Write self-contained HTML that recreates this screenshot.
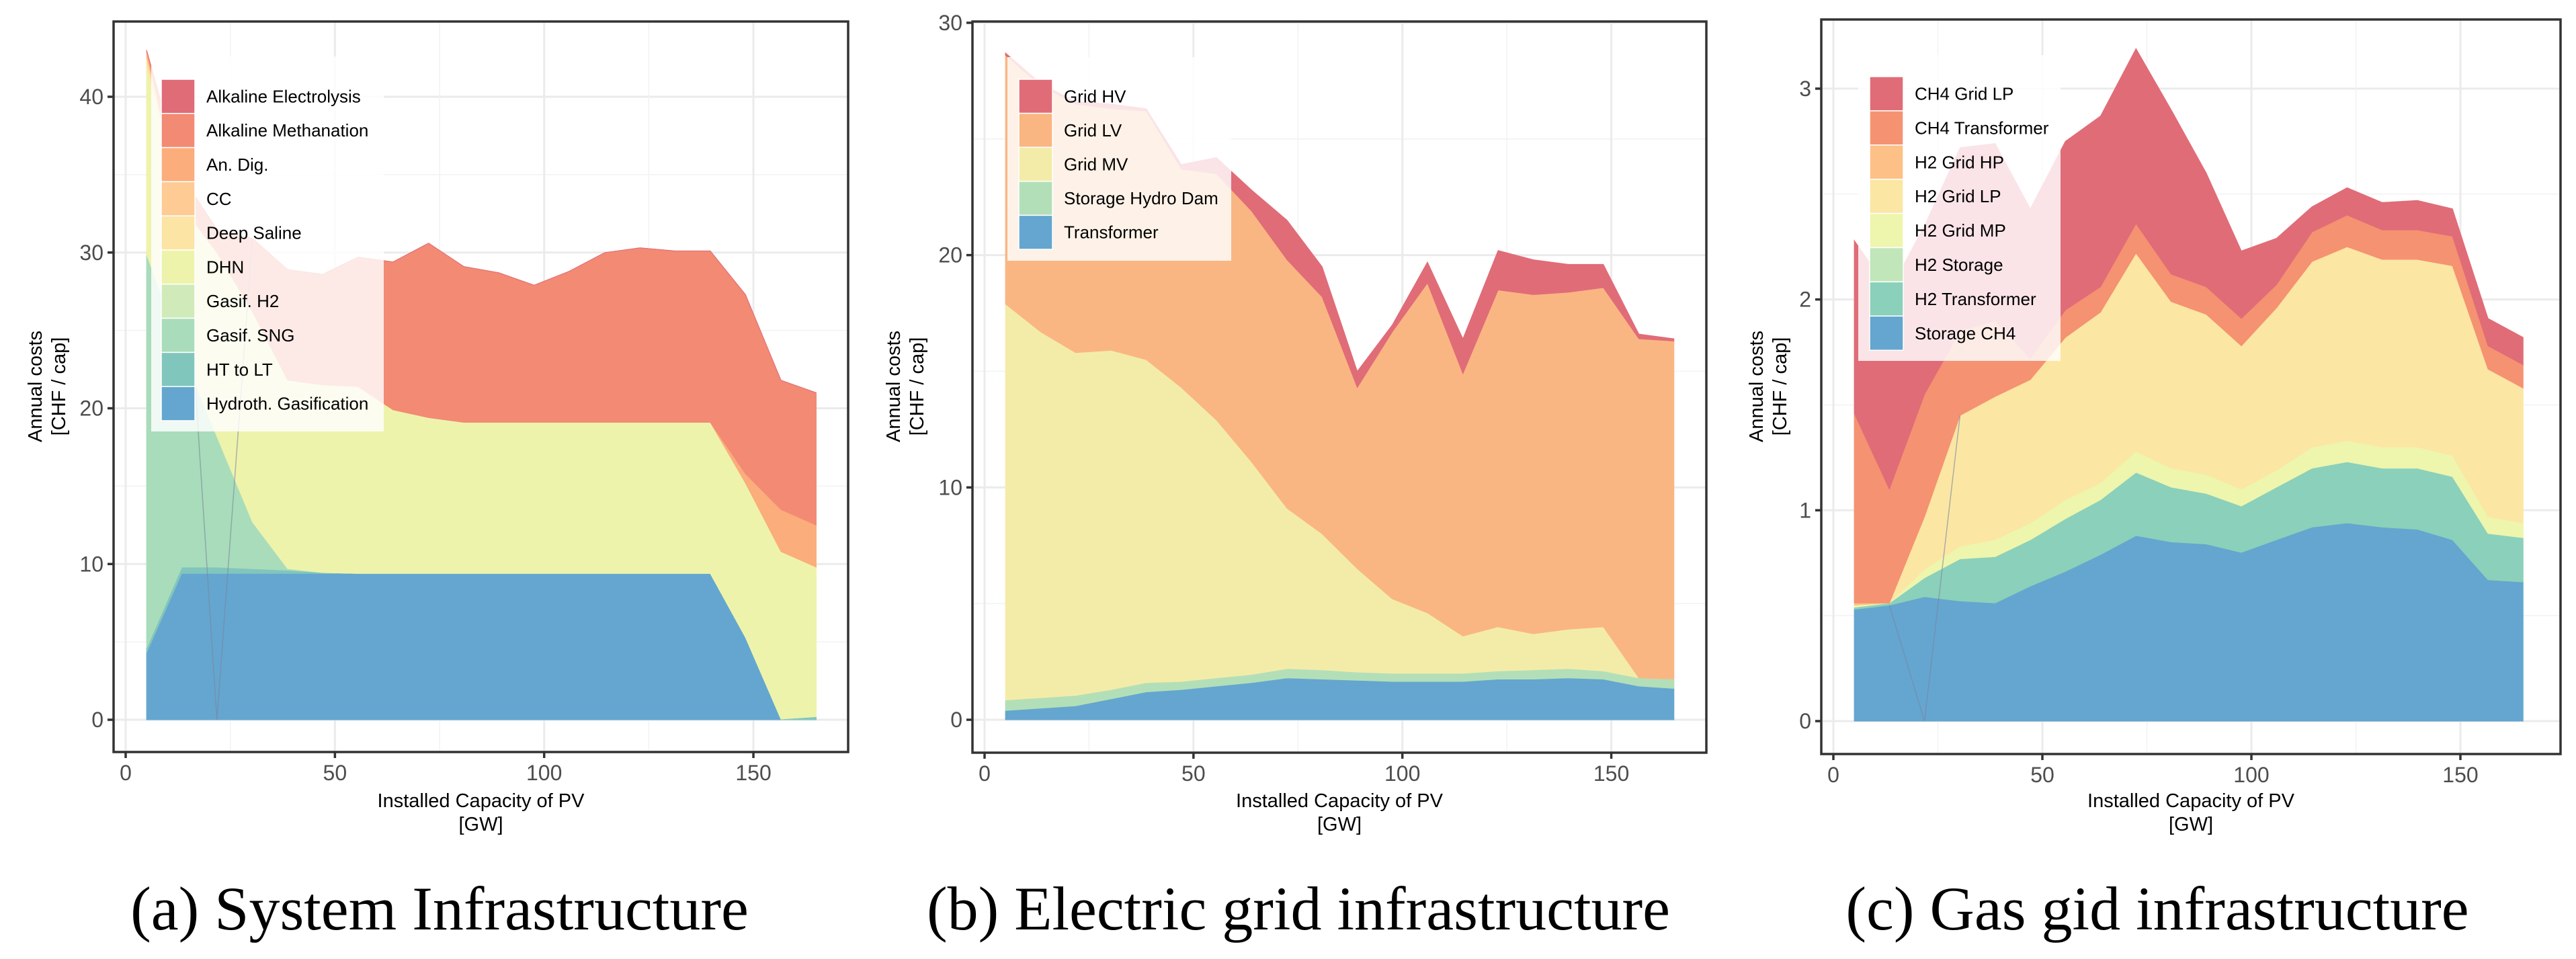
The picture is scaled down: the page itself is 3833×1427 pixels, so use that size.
<!DOCTYPE html>
<html><head><meta charset="utf-8"><style>
html,body{margin:0;padding:0;background:#fff;}
svg{display:block;}
text{font-family:"Liberation Sans",Arial,sans-serif;}
</style></head><body>
<svg id="fig" width="3833" height="1427" viewBox="0 0 3833 1427" xmlns="http://www.w3.org/2000/svg"></svg>
<script>
// ---------- Panel A data ----------
const xA = [5,13.4,21.8,30.3,38.7,47.1,55.5,63.9,72.4,80.8,89.2,97.6,106,114.5,122.9,131.3,139.7,148.1,156.6,165];
const namesA = ["Hydroth. Gasification","HT to LT","Gasif. SNG","Gasif. H2","DHN","Deep Saline","CC","An. Dig.","Alkaline Methanation","Alkaline Electrolysis"];
const aHydroth = [4.3,9.4,9.4,9.4,9.4,9.4,9.4,9.4,9.4,9.4,9.4,9.4,9.4,9.4,9.4,9.4,9.4,5.3,0,0];
const aHTLT = [0.3,0.4,0.4,0.3,0.2,0.05,0,0,0,0,0,0,0,0,0,0,0,0,0.05,0.2];
const aSNG = [25.3,13.9,8.4,3.0,0.1,0,0,0,0,0,0,0,0,0,0,0,0,0,0,0];
const aGasH2 = [0,0,0,0,0,0,0,0,0,0,0,0,0,0,0,0,0,0,0,0];
const aDHN = [12.1,9.3,11.8,13.5,12.1,12.05,12.0,10.5,10.0,9.7,9.7,9.7,9.7,9.7,9.7,9.7,9.7,9.9,10.75,9.6];
const aDeep = [0.5,0,0,0,0,0,0,0,0,0,0,0,0,0,0,0,0,0,0,0];
const aCC = [0.3,0,0,0,0,0,0,0,0,0,0,0,0,0,0,0,0,0,0,0];
const aAnDig = [0.2,0,0,0,0,0,0,0,0,0,0,0,0,0,0,0,0,0.6,2.7,2.7];
const aMeth = [0,1.9,1.5,4.7,7.1,7.1,8.3,9.5,11.2,10.0,9.6,8.8,9.7,10.9,11.2,11.0,11.0,11.5,8.3,8.5];
const aElec = [0,0,0,0,0,0,0,0,0,0,0,0,0,0,0,0,0,0,0,0];
const glitchAx = [13.4,21.8,30.3];
const glitchAy = [34.9,0,30.9];
const yTicksA = [0,10,20,30,40];

// ---------- Panel B data ----------
const xB = [5,13.4,21.8,30.3,38.7,47.1,55.5,63.9,72.4,80.8,89.2,97.6,106,114.5,122.9,131.3,139.7,148.1,156.6,165];
const namesB = ["Transformer","Storage Hydro Dam","Grid MV","Grid LV","Grid HV"];
const bTrans = [0.4,0.5,0.6,0.9,1.2,1.3,1.45,1.6,1.8,1.75,1.7,1.65,1.65,1.65,1.75,1.75,1.8,1.75,1.45,1.35];
const bHydro = [0.45,0.45,0.45,0.4,0.4,0.35,0.35,0.35,0.4,0.4,0.35,0.35,0.35,0.35,0.35,0.4,0.4,0.35,0.35,0.4];
const bMV = [17.05,15.75,14.75,14.6,13.9,12.65,11.1,9.15,6.9,5.85,4.45,3.2,2.6,1.6,1.9,1.55,1.7,1.9,0,0];
const bLV = [10.7,10.6,10.7,10.4,10.7,9.4,10.6,10.8,10.7,10.2,7.8,11.5,14.2,11.3,14.5,14.6,14.5,14.6,14.6,14.55];
const bHV = [0.1,0.1,0.1,0.2,0.1,0.2,0.7,0.9,1.7,1.3,0.7,0.3,0.9,1.5,1.7,1.5,1.2,1.0,0.2,0.1];
const yTicksB = [0,10,20,30];

// ---------- Panel C data ----------
const xC = [5,13.4,21.8,30.3,38.7,47.1,55.5,63.9,72.4,80.8,89.2,97.6,106,114.5,122.9,131.3,139.7,148.1,156.6,165];
const namesC = ["Storage CH4","H2 Transformer","H2 Storage","H2 Grid MP","H2 Grid LP","H2 Grid HP","CH4 Transformer","CH4 Grid LP"];
const cStorCH4 = [0.53,0.55,0.59,0.57,0.56,0.64,0.71,0.79,0.88,0.85,0.84,0.80,0.86,0.92,0.94,0.92,0.91,0.86,0.67,0.66];
const cH2Trans = [0.01,0.01,0.09,0.2,0.22,0.22,0.25,0.26,0.30,0.26,0.24,0.22,0.25,0.28,0.29,0.28,0.29,0.30,0.22,0.21];
const cH2Stor = [0,0,0,0,0,0,0,0,0,0,0,0,0,0,0,0,0,0,0,0];
const cH2MP = [0.01,0,0.04,0.06,0.08,0.08,0.09,0.08,0.10,0.09,0.09,0.08,0.08,0.10,0.10,0.10,0.10,0.10,0.08,0.07];
const cH2LP = [0,0,0.25,0.62,0.68,0.68,0.77,0.81,0.94,0.79,0.76,0.68,0.77,0.88,0.92,0.89,0.89,0.90,0.70,0.64];
const cH2HP = [0.01,0,0,0,0,0,0,0,0,0,0,0,0,0,0,0,0,0,0,0];
const cCH4Trans = [0.90,0.54,0.58,0.40,0.36,0.10,0.13,0.12,0.14,0.13,0.13,0.13,0.11,0.14,0.15,0.14,0.14,0.14,0.11,0.11];
const cCH4LP = [0.82,0.94,0.80,0.87,0.84,0.71,0.80,0.81,0.83,0.78,0.54,0.32,0.22,0.12,0.13,0.13,0.14,0.13,0.13,0.13];
const glitchCx = [13.4,21.8,30.3];
const glitchCy = [0.55,0,1.45];
const yTicksC = [0,1,2,3];

const xTicks = [0,50,100,150];

const NS = "http://www.w3.org/2000/svg";
const svg = document.getElementById('fig');
function mk(tag, attrs, parent){
  const e = document.createElementNS(NS, tag);
  for (const k in attrs) e.setAttribute(k, attrs[k]);
  (parent||svg).appendChild(e);
  return e;
}

function panel(cfg){
  const g = mk('g', {});
  
  
  const X = v => cfg.x0 + v*cfg.kx;
  const Y = v => cfg.y0 - v*cfg.ky;
  const [L,T,R,B] = cfg.box;
  const cid = cfg.id + '-clip';
  const defs = mk('defs', {}, g);
  const cp = mk('clipPath', {id: cid}, defs);
  mk('rect', {x:L, y:T, width:R-L, height:B-T}, cp);
  const grid = mk('g', {}, g);
  
  
  for (let i=0;i<cfg.yTicks.length;i++){
    const v = cfg.yTicks[i];
    mk('line', {x1:L, x2:R, y1:Y(v), y2:Y(v), stroke:'#ebebeb', 'stroke-width':3}, grid);
    const m = v + cfg.yStep/2;
    if (Y(m) > T) mk('line', {x1:L, x2:R, y1:Y(m), y2:Y(m), stroke:'#f2f2f2', 'stroke-width':1.5}, grid);
    const mm = v - cfg.yStep/2;
    if (i===0 && Y(mm) < B) mk('line', {x1:L, x2:R, y1:Y(mm), y2:Y(mm), stroke:'#f2f2f2', 'stroke-width':1.5}, grid);
  }
  for (const v of xTicks){
    mk('line', {x1:X(v), x2:X(v), y1:T, y2:B, stroke:'#ebebeb', 'stroke-width':3}, grid);
    const m = v + 25;
    if (X(m) < R) mk('line', {x1:X(m), x2:X(m), y1:T, y2:B, stroke:'#f2f2f2', 'stroke-width':1.5}, grid);
  }
  const areas = mk('g', {'clip-path':'url(#'+cid+')'}, g);
  
  
  const n = cfg.x.length;
  let base = new Array(n).fill(0);
  cfg.series.forEach((s, si) => {
    const top = base.map((b,i)=> b + s[i]);
    let d = '';
    for (let i=0;i<n;i++) d += (i? 'L':'M') + X(cfg.x[i]).toFixed(1) + ',' + Y(top[i]).toFixed(1);
    for (let i=n-1;i>=0;i--) d += 'L' + X(cfg.x[i]).toFixed(1) + ',' + Y(base[i]).toFixed(1);
    d += 'Z';
    const p = mk('path', {d:d, fill:cfg.colors[si], stroke:cfg.colors[si], 'stroke-width':1}, areas);
    
    
    base = top;
  });
  if (cfg.gx){
    let d='';
    cfg.gx.forEach((v,i)=>{ d += (i?'L':'M') + X(v).toFixed(1) + ',' + Y(cfg.gy[i]).toFixed(1); });
    const gl = mk('path', {d:d, fill:'none', stroke:'#7a86a0', 'stroke-width':1.5, opacity:0.6}, areas);
    
    
  }
  const lg = mk('g', {}, g);
  
  
  const LG = cfg.legend;
  mk('rect', {x:LG.x, y:LG.y, width:LG.w, height:LG.h, fill:'#fff', 'fill-opacity':0.82}, lg);
  const m = cfg.names.length;
  for (let k=0;k<m;k++){
    const si = m-1-k;
    const ky = LG.ky + k*LG.kh;
    const ent = mk('g', {}, lg);
    
    
    mk('rect', {x:LG.kx, y:ky, width:50, height:LG.kh, fill:cfg.colors[si], stroke:'#fff', 'stroke-width':1.5}, ent);
    const t = mk('text', {x:LG.tx, y:ky+LG.kh/2+9, 'font-size':26, fill:'#000'}, ent);
    t.textContent = cfg.names[si];
  }
  const bd = mk('rect', {x:L, y:T, width:R-L, height:B-T, fill:'none', stroke:'#333', 'stroke-width':3.5}, g);
  
  
  const ya = mk('g', {}, g);
  
  
  for (const v of cfg.yTicks){
    mk('line', {x1:L-9, x2:L, y1:Y(v), y2:Y(v), stroke:'#333', 'stroke-width':3.5}, ya);
    const t = mk('text', {x:L-15, y:Y(v)+11, 'font-size':32, fill:'#4d4d4d', 'text-anchor':'end'}, ya);
    t.textContent = v;
  }
  const xa = mk('g', {}, g);
  
  
  for (const v of xTicks){
    mk('line', {x1:X(v), x2:X(v), y1:B, y2:B+9, stroke:'#333', 'stroke-width':3.5}, xa);
    const t = mk('text', {x:X(v), y:B+42, 'font-size':32, fill:'#4d4d4d', 'text-anchor':'middle'}, xa);
    t.textContent = v;
  }
  const cx = (L+R)/2;
  const xt = mk('text', {x:cx, y:1201, 'font-size':29, 'text-anchor':'middle', fill:'#000'}, g);
  
  
  xt.textContent = 'Installed Capacity of PV';
  const xu = mk('text', {x:cx, y:1236, 'font-size':29, 'text-anchor':'middle', fill:'#000'}, g);
  
  
  xu.textContent = '[GW]';
  const yt = mk('text', {x:0, y:0, 'font-size':29, 'text-anchor':'middle', fill:'#000', transform:'translate('+(cfg.yTitleX)+',575) rotate(-90)'}, g);
  
  
  yt.textContent = 'Annual costs';
  const yu = mk('text', {x:0, y:0, 'font-size':29, 'text-anchor':'middle', fill:'#000', transform:'translate('+(cfg.yTitleX+35)+',575) rotate(-90)'}, g);
  
  
  yu.textContent = '[CHF / cap]';
  const cap = mk('text', {x:cfg.capX, y:1383, 'font-size':92, 'text-anchor':'middle', fill:'#000', style:'font-family:"Liberation Serif",serif'}, g);
  
  
  cap.textContent = cfg.caption;
}

panel({id:'panel-a', x:xA, series:[aHydroth,aHTLT,aSNG,aGasH2,aDHN,aDeep,aCC,aAnDig,aMeth,aElec], names:namesA,
  colors:['#64a6cf','#81c6bd','#a9dcba','#d0ebb9','#eef3ab','#fce4a4','#fdcb93','#fbad7b','#f28a74','#e06c78'],
  x0:187, kx:6.227, y0:1071, ky:23.175, box:[169,32,1262,1119], yTicks:yTicksA, yStep:10,
  legend:{x:225,y:84,w:346,h:558,kx:240,ky:118,kh:50.8,tx:307},
  gx:glitchAx, gy:glitchAy, yTitleX:62, capX:654, caption:'(a) System Infrastructure'});
panel({id:'panel-b', x:xB, series:[bTrans,bHydro,bMV,bLV,bHV], names:namesB,
  colors:['#64a6cf','#b3dfb8','#f3eca9','#fab682','#e06c78'],
  x0:1465, kx:6.217, y0:1071, ky:34.57, box:[1447,32,2539,1120], yTicks:yTicksB, yStep:10,
  legend:{x:1499,y:85,w:333,h:303,kx:1516,ky:118,kh:50.6,tx:1583},
  yTitleX:1339, capX:1932, caption:'(b) Electric grid infrastructure'});
panel({id:'panel-c', x:xC, series:[cStorCH4,cH2Trans,cH2Stor,cH2MP,cH2LP,cH2HP,cCH4Trans,cCH4LP], names:namesC,
  colors:['#64a6cf','#8bd0ba','#c0e6b9','#eef5ad','#fbe6a4','#fdc086','#f59271','#e06c78'],
  x0:2728, kx:6.22, y0:1073, ky:313.7, box:[2710,29,3810,1122], yTicks:yTicksC, yStep:1,
  legend:{x:2765,y:82,w:301,h:455,kx:2782,ky:114,kh:50.9,tx:2849},
  gx:glitchCx, gy:glitchCy, yTitleX:2623, capX:3210, caption:'(c) Gas gid infrastructure'});
</script>
</body></html>
